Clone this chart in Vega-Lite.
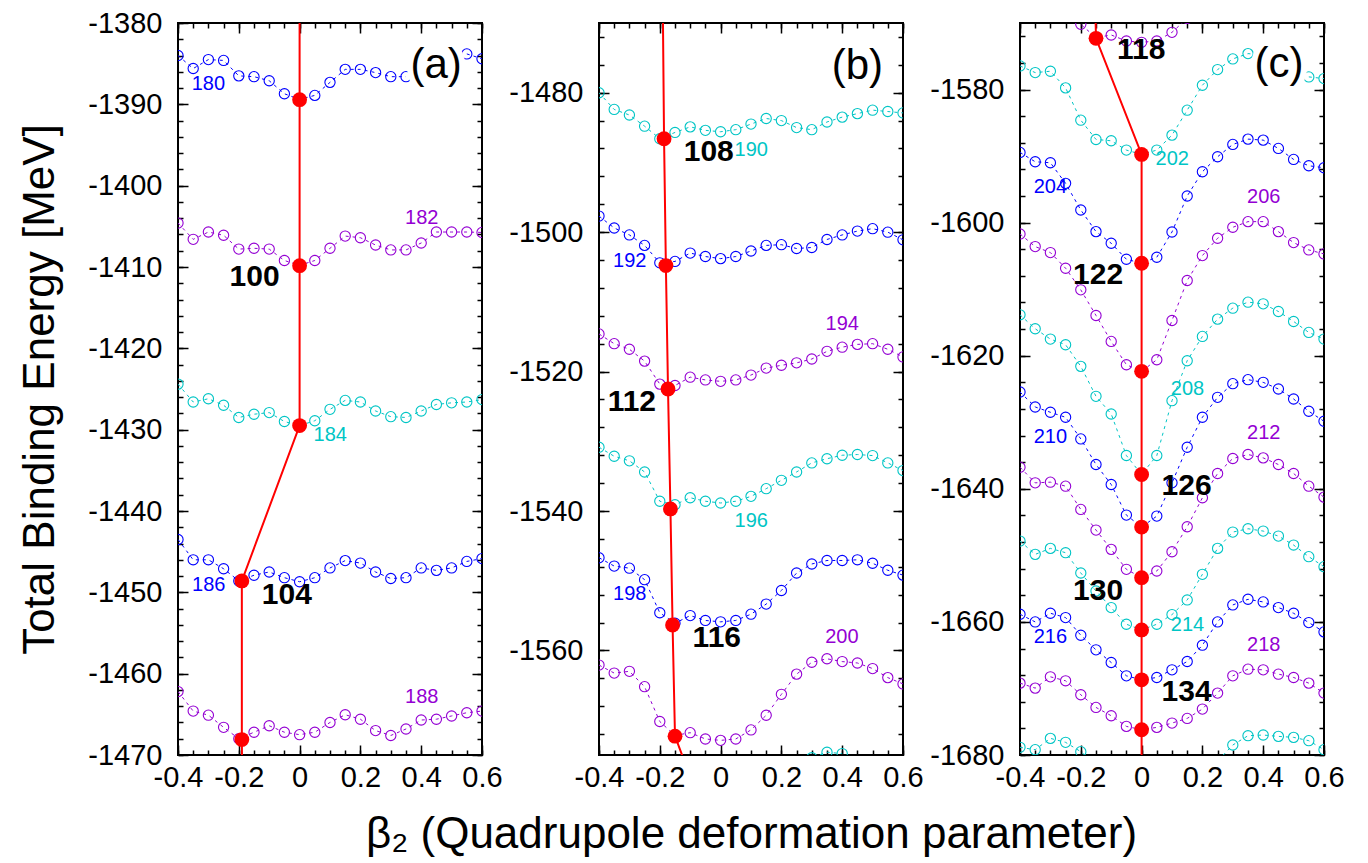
{
"$schema":"https://vega.github.io/schema/vega-lite/v6.json",
"background":"white",
"padding":{"left":17,"top":8,"right":5,"bottom":5},
"bounds":"flush",
"spacing":117,
"config":{"view":{"stroke":"black","strokeWidth":2},
"axis":{"domain":false,"grid":false,"tickColor":"black","tickWidth":1.5,"labelFont":"Liberation Sans","labelFontSize":29,"labelColor":"black","labelFlush":false,"labelOverlap":false,"titleFont":"Liberation Sans","titleFontSize":44,"titleFontWeight":"normal","titleColor":"black"}},
"datasets":{
"curves":[
{"A":180,"b":-0.4,"E":-1384.0},{"A":180,"b":-0.35,"E":-1385.6},{"A":180,"b":-0.3,"E":-1384.5},{"A":180,"b":-0.25,"E":-1384.6},{"A":180,"b":-0.2,"E":-1386.5},{"A":180,"b":-0.15,"E":-1386.6},{"A":180,"b":-0.1,"E":-1387.1},{"A":180,"b":-0.05,"E":-1388.7},{"A":180,"b":0,"E":-1389.4},{"A":180,"b":0.05,"E":-1388.9},{"A":180,"b":0.1,"E":-1387.3},{"A":180,"b":0.15,"E":-1385.7},{"A":180,"b":0.2,"E":-1385.7},{"A":180,"b":0.25,"E":-1386.1},{"A":180,"b":0.3,"E":-1386.6},{"A":180,"b":0.35,"E":-1386.6},{"A":180,"b":0.4,"E":null},{"A":180,"b":0.45,"E":null},{"A":180,"b":0.5,"E":null},{"A":180,"b":0.55,"E":-1383.8},{"A":180,"b":0.6,"E":-1384.4},
{"A":182,"b":-0.4,"E":-1404.6},{"A":182,"b":-0.35,"E":-1406.6},{"A":182,"b":-0.3,"E":-1405.7},{"A":182,"b":-0.25,"E":-1406.1},{"A":182,"b":-0.2,"E":-1407.8},{"A":182,"b":-0.15,"E":-1407.7},{"A":182,"b":-0.1,"E":-1407.8},{"A":182,"b":-0.05,"E":-1409.2},{"A":182,"b":0,"E":-1409.8},{"A":182,"b":0.05,"E":-1409.2},{"A":182,"b":0.1,"E":-1407.7},{"A":182,"b":0.15,"E":-1406.2},{"A":182,"b":0.2,"E":-1406.4},{"A":182,"b":0.25,"E":-1407.3},{"A":182,"b":0.3,"E":-1407.9},{"A":182,"b":0.35,"E":-1407.9},{"A":182,"b":0.4,"E":-1407.05},{"A":182,"b":0.45,"E":-1405.7},{"A":182,"b":0.5,"E":-1405.7},{"A":182,"b":0.55,"E":-1405.7},{"A":182,"b":0.6,"E":-1405.75},
{"A":184,"b":-0.4,"E":-1424.4},{"A":184,"b":-0.35,"E":-1426.6},{"A":184,"b":-0.3,"E":-1426.2},{"A":184,"b":-0.25,"E":-1427.0},{"A":184,"b":-0.2,"E":-1428.5},{"A":184,"b":-0.15,"E":-1428.1},{"A":184,"b":-0.1,"E":-1427.9},{"A":184,"b":-0.05,"E":-1429.0},{"A":184,"b":0,"E":-1429.5},{"A":184,"b":0.05,"E":-1428.9},{"A":184,"b":0.1,"E":-1427.5},{"A":184,"b":0.15,"E":-1426.4},{"A":184,"b":0.2,"E":-1426.6},{"A":184,"b":0.25,"E":-1427.7},{"A":184,"b":0.3,"E":-1428.4},{"A":184,"b":0.35,"E":-1428.5},{"A":184,"b":0.4,"E":-1427.7},{"A":184,"b":0.45,"E":-1426.9},{"A":184,"b":0.5,"E":-1426.7},{"A":184,"b":0.55,"E":-1426.6},{"A":184,"b":0.6,"E":-1426.3},
{"A":186,"b":-0.4,"E":-1443.5},{"A":186,"b":-0.35,"E":-1446.0},{"A":186,"b":-0.3,"E":-1446.0},{"A":186,"b":-0.25,"E":-1447.1},{"A":186,"b":-0.2,"E":-1448.6},{"A":186,"b":-0.15,"E":-1447.9},{"A":186,"b":-0.1,"E":-1447.5},{"A":186,"b":-0.05,"E":-1448.2},{"A":186,"b":0,"E":-1448.7},{"A":186,"b":0.05,"E":-1448.2},{"A":186,"b":0.1,"E":-1447.0},{"A":186,"b":0.15,"E":-1446.1},{"A":186,"b":0.2,"E":-1446.4},{"A":186,"b":0.25,"E":-1447.5},{"A":186,"b":0.3,"E":-1448.3},{"A":186,"b":0.35,"E":-1448.2},{"A":186,"b":0.4,"E":-1447.0},{"A":186,"b":0.45,"E":-1447.3},{"A":186,"b":0.5,"E":-1447.0},{"A":186,"b":0.55,"E":-1446.2},{"A":186,"b":0.6,"E":-1445.85},
{"A":188,"b":-0.4,"E":-1462.2},{"A":188,"b":-0.35,"E":-1464.6},{"A":188,"b":-0.3,"E":-1465.1},{"A":188,"b":-0.25,"E":-1466.6},{"A":188,"b":-0.2,"E":-1468.0},{"A":188,"b":-0.15,"E":-1467.2},{"A":188,"b":-0.1,"E":-1466.4},{"A":188,"b":-0.05,"E":-1467.2},{"A":188,"b":0,"E":-1467.5},{"A":188,"b":0.05,"E":-1467.2},{"A":188,"b":0.1,"E":-1466.0},{"A":188,"b":0.15,"E":-1465.05},{"A":188,"b":0.2,"E":-1465.6},{"A":188,"b":0.25,"E":-1467.0},{"A":188,"b":0.3,"E":-1467.6},{"A":188,"b":0.35,"E":-1466.8},{"A":188,"b":0.4,"E":-1465.7},{"A":188,"b":0.45,"E":-1465.6},{"A":188,"b":0.5,"E":-1465.2},{"A":188,"b":0.55,"E":-1464.8},{"A":188,"b":0.6,"E":-1464.6},
{"A":190,"b":-0.4,"E":-1480.0},{"A":190,"b":-0.35,"E":-1482.4},{"A":190,"b":-0.3,"E":-1483.2},{"A":190,"b":-0.25,"E":-1484.8},{"A":190,"b":-0.2,"E":-1486.6},{"A":190,"b":-0.15,"E":-1485.7},{"A":190,"b":-0.1,"E":-1484.9},{"A":190,"b":-0.05,"E":-1485.4},{"A":190,"b":0,"E":-1485.6},{"A":190,"b":0.05,"E":-1485.3},{"A":190,"b":0.1,"E":-1484.5},{"A":190,"b":0.15,"E":-1483.7},{"A":190,"b":0.2,"E":-1484.0},{"A":190,"b":0.25,"E":-1485.0},{"A":190,"b":0.3,"E":-1485.3},{"A":190,"b":0.35,"E":-1484.2},{"A":190,"b":0.4,"E":-1483.5},{"A":190,"b":0.45,"E":-1483.0},{"A":190,"b":0.5,"E":-1482.5},{"A":190,"b":0.55,"E":-1482.7},{"A":190,"b":0.6,"E":-1482.9},
{"A":192,"b":-0.4,"E":-1497.7},{"A":192,"b":-0.35,"E":-1499.4},{"A":192,"b":-0.3,"E":-1500.4},{"A":192,"b":-0.25,"E":-1501.9},{"A":192,"b":-0.2,"E":-1504.4},{"A":192,"b":-0.15,"E":-1504.2},{"A":192,"b":-0.1,"E":-1503.0},{"A":192,"b":-0.05,"E":-1503.5},{"A":192,"b":0,"E":-1503.8},{"A":192,"b":0.05,"E":-1503.5},{"A":192,"b":0.1,"E":-1502.7},{"A":192,"b":0.15,"E":-1501.9},{"A":192,"b":0.2,"E":-1501.8},{"A":192,"b":0.25,"E":-1502.35},{"A":192,"b":0.3,"E":-1502.2},{"A":192,"b":0.35,"E":-1501.05},{"A":192,"b":0.4,"E":-1500.4},{"A":192,"b":0.45,"E":-1499.85},{"A":192,"b":0.5,"E":-1499.5},{"A":192,"b":0.55,"E":-1500.0},{"A":192,"b":0.6,"E":-1501.1},
{"A":194,"b":-0.4,"E":-1514.6},{"A":194,"b":-0.35,"E":-1516.0},{"A":194,"b":-0.3,"E":-1516.8},{"A":194,"b":-0.25,"E":-1518.5},{"A":194,"b":-0.2,"E":-1521.8},{"A":194,"b":-0.15,"E":-1522.0},{"A":194,"b":-0.1,"E":-1520.8},{"A":194,"b":-0.05,"E":-1521.2},{"A":194,"b":0,"E":-1521.4},{"A":194,"b":0.05,"E":-1521.2},{"A":194,"b":0.1,"E":-1520.5},{"A":194,"b":0.15,"E":-1519.5},{"A":194,"b":0.2,"E":-1519.1},{"A":194,"b":0.25,"E":-1518.75},{"A":194,"b":0.3,"E":-1518.2},{"A":194,"b":0.35,"E":-1517.1},{"A":194,"b":0.4,"E":-1516.5},{"A":194,"b":0.45,"E":-1516.1},{"A":194,"b":0.5,"E":-1516.0},{"A":194,"b":0.55,"E":-1516.8},{"A":194,"b":0.6,"E":-1517.9},
{"A":196,"b":-0.4,"E":-1530.85},{"A":196,"b":-0.35,"E":-1532.15},{"A":196,"b":-0.3,"E":-1532.8},{"A":196,"b":-0.25,"E":-1534.4},{"A":196,"b":-0.2,"E":-1538.6},{"A":196,"b":-0.15,"E":-1539.1},{"A":196,"b":-0.1,"E":-1538.1},{"A":196,"b":-0.05,"E":-1538.6},{"A":196,"b":0,"E":-1538.85},{"A":196,"b":0.05,"E":-1538.6},{"A":196,"b":0.1,"E":-1537.9},{"A":196,"b":0.15,"E":-1536.8},{"A":196,"b":0.2,"E":-1535.6},{"A":196,"b":0.25,"E":-1534.4},{"A":196,"b":0.3,"E":-1533.1},{"A":196,"b":0.35,"E":-1532.5},{"A":196,"b":0.4,"E":-1532.0},{"A":196,"b":0.45,"E":-1531.9},{"A":196,"b":0.5,"E":-1532.05},{"A":196,"b":0.55,"E":-1533.1},{"A":196,"b":0.6,"E":-1534.2},
{"A":198,"b":-0.4,"E":-1546.7},{"A":198,"b":-0.35,"E":-1547.9},{"A":198,"b":-0.3,"E":-1548.2},{"A":198,"b":-0.25,"E":-1549.85},{"A":198,"b":-0.2,"E":-1554.6},{"A":198,"b":-0.15,"E":-1556.1},{"A":198,"b":-0.1,"E":-1555.0},{"A":198,"b":-0.05,"E":-1555.7},{"A":198,"b":0,"E":-1555.9},{"A":198,"b":0.05,"E":-1555.7},{"A":198,"b":0.1,"E":-1554.8},{"A":198,"b":0.15,"E":-1553.35},{"A":198,"b":0.2,"E":-1551.4},{"A":198,"b":0.25,"E":-1548.9},{"A":198,"b":0.3,"E":-1547.6},{"A":198,"b":0.35,"E":-1547.1},{"A":198,"b":0.4,"E":-1547.1},{"A":198,"b":0.45,"E":-1547.0},{"A":198,"b":0.5,"E":-1547.5},{"A":198,"b":0.55,"E":-1548.5},{"A":198,"b":0.6,"E":-1549.2},
{"A":200,"b":-0.4,"E":-1562.1},{"A":200,"b":-0.35,"E":-1563.25},{"A":200,"b":-0.3,"E":-1563.0},{"A":200,"b":-0.25,"E":-1565.2},{"A":200,"b":-0.2,"E":-1570.2},{"A":200,"b":-0.15,"E":-1572.2},{"A":200,"b":-0.1,"E":-1571.8},{"A":200,"b":-0.05,"E":-1572.7},{"A":200,"b":0,"E":-1572.9},{"A":200,"b":0.05,"E":-1572.7},{"A":200,"b":0.1,"E":-1571.4},{"A":200,"b":0.15,"E":-1569.3},{"A":200,"b":0.2,"E":-1566.3},{"A":200,"b":0.25,"E":-1563.4},{"A":200,"b":0.3,"E":-1561.7},{"A":200,"b":0.35,"E":-1561.2},{"A":200,"b":0.4,"E":-1561.6},{"A":200,"b":0.45,"E":-1561.8},{"A":200,"b":0.5,"E":-1562.6},{"A":200,"b":0.55,"E":-1563.9},{"A":200,"b":0.6,"E":-1564.8},
{"A":202,"b":-0.4,"E":-1576.45},{"A":202,"b":-0.35,"E":-1577.45},{"A":202,"b":-0.3,"E":-1577.25},{"A":202,"b":-0.25,"E":-1579.75},{"A":202,"b":-0.2,"E":-1584.6},{"A":202,"b":-0.15,"E":-1587.5},{"A":202,"b":-0.1,"E":-1587.7},{"A":202,"b":-0.05,"E":-1589.1},{"A":202,"b":0,"E":-1589.75},{"A":202,"b":0.05,"E":-1589.1},{"A":202,"b":0.1,"E":-1586.85},{"A":202,"b":0.15,"E":-1583.1},{"A":202,"b":0.2,"E":-1579.35},{"A":202,"b":0.25,"E":-1577.0},{"A":202,"b":0.3,"E":-1575.4},{"A":202,"b":0.35,"E":-1574.6},{"A":202,"b":0.4,"E":-1574.8},{"A":202,"b":0.45,"E":null},{"A":202,"b":0.5,"E":null},{"A":202,"b":0.55,"E":-1578.1},{"A":202,"b":0.6,"E":-1578.35},
{"A":204,"b":-0.4,"E":-1589.45},{"A":204,"b":-0.35,"E":-1590.85},{"A":204,"b":-0.3,"E":-1591.0},{"A":204,"b":-0.25,"E":-1594.1},{"A":204,"b":-0.2,"E":-1598.1},{"A":204,"b":-0.15,"E":-1601.35},{"A":204,"b":-0.1,"E":-1603.1},{"A":204,"b":-0.05,"E":-1605.5},{"A":204,"b":0,"E":-1606.1},{"A":204,"b":0.05,"E":-1605.2},{"A":204,"b":0.1,"E":-1601.4},{"A":204,"b":0.15,"E":-1596.0},{"A":204,"b":0.2,"E":-1592.35},{"A":204,"b":0.25,"E":-1590.1},{"A":204,"b":0.3,"E":-1588.25},{"A":204,"b":0.35,"E":-1587.45},{"A":204,"b":0.4,"E":-1587.6},{"A":204,"b":0.45,"E":-1588.85},{"A":204,"b":0.5,"E":-1590.5},{"A":204,"b":0.55,"E":-1591.45},{"A":204,"b":0.6,"E":-1591.75},
{"A":206,"b":-0.4,"E":-1601.7},{"A":206,"b":-0.35,"E":-1603.6},{"A":206,"b":-0.3,"E":-1604.5},{"A":206,"b":-0.25,"E":-1606.85},{"A":206,"b":-0.2,"E":-1610.1},{"A":206,"b":-0.15,"E":-1613.95},{"A":206,"b":-0.1,"E":-1617.85},{"A":206,"b":-0.05,"E":-1621.35},{"A":206,"b":0,"E":-1622.35},{"A":206,"b":0.05,"E":-1620.6},{"A":206,"b":0.1,"E":-1614.7},{"A":206,"b":0.15,"E":-1608.7},{"A":206,"b":0.2,"E":-1604.95},{"A":206,"b":0.25,"E":-1602.35},{"A":206,"b":0.3,"E":-1600.7},{"A":206,"b":0.35,"E":-1599.85},{"A":206,"b":0.4,"E":-1599.85},{"A":206,"b":0.45,"E":-1601.35},{"A":206,"b":0.5,"E":-1603.0},{"A":206,"b":0.55,"E":-1604.1},{"A":206,"b":0.6,"E":-1604.7},
{"A":208,"b":-0.4,"E":-1613.85},{"A":208,"b":-0.35,"E":-1615.95},{"A":208,"b":-0.3,"E":-1617.5},{"A":208,"b":-0.25,"E":-1618.35},{"A":208,"b":-0.2,"E":-1621.6},{"A":208,"b":-0.15,"E":-1626.1},{"A":208,"b":-0.1,"E":-1628.75},{"A":208,"b":-0.05,"E":-1635.0},{"A":208,"b":0,"E":-1637.85},{"A":208,"b":0.05,"E":-1635.0},{"A":208,"b":0.1,"E":-1626.75},{"A":208,"b":0.15,"E":-1620.75},{"A":208,"b":0.2,"E":-1617.1},{"A":208,"b":0.25,"E":-1614.5},{"A":208,"b":0.3,"E":-1612.85},{"A":208,"b":0.35,"E":-1611.95},{"A":208,"b":0.4,"E":-1612.2},{"A":208,"b":0.45,"E":-1613.35},{"A":208,"b":0.5,"E":-1614.85},{"A":208,"b":0.55,"E":-1616.5},{"A":208,"b":0.6,"E":-1617.5},
{"A":210,"b":-0.4,"E":-1625.45},{"A":210,"b":-0.35,"E":-1627.7},{"A":210,"b":-0.3,"E":-1628.5},{"A":210,"b":-0.25,"E":-1629.25},{"A":210,"b":-0.2,"E":-1632.5},{"A":210,"b":-0.15,"E":-1636.35},{"A":210,"b":-0.1,"E":-1639.35},{"A":210,"b":-0.05,"E":-1643.95},{"A":210,"b":0,"E":-1645.75},{"A":210,"b":0.05,"E":-1644.1},{"A":210,"b":0.1,"E":-1639.1},{"A":210,"b":0.15,"E":-1633.75},{"A":210,"b":0.2,"E":-1629.25},{"A":210,"b":0.25,"E":-1626.25},{"A":210,"b":0.3,"E":-1624.2},{"A":210,"b":0.35,"E":-1623.6},{"A":210,"b":0.4,"E":-1624.0},{"A":210,"b":0.45,"E":-1625.0},{"A":210,"b":0.5,"E":-1626.5},{"A":210,"b":0.55,"E":-1628.35},{"A":210,"b":0.6,"E":-1629.85},
{"A":212,"b":-0.4,"E":-1636.75},{"A":212,"b":-0.35,"E":-1639.1},{"A":212,"b":-0.3,"E":-1639.0},{"A":212,"b":-0.25,"E":-1639.6},{"A":212,"b":-0.2,"E":-1643.1},{"A":212,"b":-0.15,"E":-1646.2},{"A":212,"b":-0.1,"E":-1649.1},{"A":212,"b":-0.05,"E":-1652.1},{"A":212,"b":0,"E":-1653.35},{"A":212,"b":0.05,"E":-1652.35},{"A":212,"b":0.1,"E":-1649.45},{"A":212,"b":0.15,"E":-1645.7},{"A":212,"b":0.2,"E":-1641.35},{"A":212,"b":0.25,"E":-1637.7},{"A":212,"b":0.3,"E":-1635.45},{"A":212,"b":0.35,"E":-1634.85},{"A":212,"b":0.4,"E":-1635.35},{"A":212,"b":0.45,"E":-1636.35},{"A":212,"b":0.5,"E":-1637.7},{"A":212,"b":0.55,"E":-1639.6},{"A":212,"b":0.6,"E":-1641.25},
{"A":214,"b":-0.4,"E":-1647.85},{"A":214,"b":-0.35,"E":-1649.85},{"A":214,"b":-0.3,"E":-1648.95},{"A":214,"b":-0.25,"E":-1649.6},{"A":214,"b":-0.2,"E":-1652.65},{"A":214,"b":-0.15,"E":-1655.35},{"A":214,"b":-0.1,"E":-1657.85},{"A":214,"b":-0.05,"E":-1660.35},{"A":214,"b":0,"E":-1661.2},{"A":214,"b":0.05,"E":-1660.35},{"A":214,"b":0.1,"E":-1658.9},{"A":214,"b":0.15,"E":-1656.7},{"A":214,"b":0.2,"E":-1652.85},{"A":214,"b":0.25,"E":-1648.95},{"A":214,"b":0.3,"E":-1646.5},{"A":214,"b":0.35,"E":-1646.0},{"A":214,"b":0.4,"E":-1646.35},{"A":214,"b":0.45,"E":-1647.1},{"A":214,"b":0.5,"E":-1648.45},{"A":214,"b":0.55,"E":-1650.2},{"A":214,"b":0.6,"E":-1651.7},
{"A":216,"b":-0.4,"E":-1658.85},{"A":216,"b":-0.35,"E":-1660.0},{"A":216,"b":-0.3,"E":-1658.7},{"A":216,"b":-0.25,"E":-1659.35},{"A":216,"b":-0.2,"E":-1662.0},{"A":216,"b":-0.15,"E":-1664.2},{"A":216,"b":-0.1,"E":-1666.1},{"A":216,"b":-0.05,"E":-1668.1},{"A":216,"b":0,"E":-1668.7},{"A":216,"b":0.05,"E":-1668.35},{"A":216,"b":0.1,"E":-1667.2},{"A":216,"b":0.15,"E":-1665.95},{"A":216,"b":0.2,"E":-1663.5},{"A":216,"b":0.25,"E":-1660.0},{"A":216,"b":0.3,"E":-1657.45},{"A":216,"b":0.35,"E":-1656.6},{"A":216,"b":0.4,"E":-1657.0},{"A":216,"b":0.45,"E":-1657.85},{"A":216,"b":0.5,"E":-1658.7},{"A":216,"b":0.55,"E":-1660.1},{"A":216,"b":0.6,"E":-1661.5},
{"A":218,"b":-0.4,"E":-1669.2},{"A":218,"b":-0.35,"E":-1669.95},{"A":218,"b":-0.3,"E":-1668.25},{"A":218,"b":-0.25,"E":-1668.85},{"A":218,"b":-0.2,"E":-1670.95},{"A":218,"b":-0.15,"E":-1672.85},{"A":218,"b":-0.1,"E":-1674.1},{"A":218,"b":-0.05,"E":-1675.7},{"A":218,"b":0,"E":-1676.2},{"A":218,"b":0.05,"E":-1675.85},{"A":218,"b":0.1,"E":-1675.2},{"A":218,"b":0.15,"E":-1674.5},{"A":218,"b":0.2,"E":-1673.1},{"A":218,"b":0.25,"E":-1670.7},{"A":218,"b":0.3,"E":-1668.1},{"A":218,"b":0.35,"E":-1667.1},{"A":218,"b":0.4,"E":-1667.2},{"A":218,"b":0.45,"E":-1667.85},{"A":218,"b":0.5,"E":-1668.35},{"A":218,"b":0.55,"E":-1669.2},{"A":218,"b":0.6,"E":-1670.7},
{"A":220,"b":-0.4,"E":-1678.85},{"A":220,"b":-0.35,"E":-1679.2},{"A":220,"b":-0.3,"E":-1677.5},{"A":220,"b":-0.25,"E":-1678.1},{"A":220,"b":-0.2,"E":-1679.5},{"A":220,"b":-0.15,"E":-1681.5},{"A":220,"b":-0.1,"E":-1683.5},{"A":220,"b":-0.05,"E":-1685.5},{"A":220,"b":0,"E":-1686.5},{"A":220,"b":0.05,"E":-1685.8},{"A":220,"b":0.1,"E":-1684.5},{"A":220,"b":0.15,"E":-1683.0},{"A":220,"b":0.2,"E":-1681.8},{"A":220,"b":0.25,"E":-1680.9},{"A":220,"b":0.3,"E":-1678.5},{"A":220,"b":0.35,"E":-1677.1},{"A":220,"b":0.4,"E":-1677.0},{"A":220,"b":0.45,"E":-1677.2},{"A":220,"b":0.5,"E":-1677.35},{"A":220,"b":0.55,"E":-1677.85},{"A":220,"b":0.6,"E":-1679.2}
],
"red":[
{"N":96,"b":0,"E":-1369.5},{"N":98,"b":0,"E":-1389.43},{"N":100,"b":0,"E":-1409.84},{"N":102,"b":0,"E":-1429.5},{"N":104,"b":-0.19,"E":-1448.6},{"N":106,"b":-0.19,"E":-1468.1},{"N":108,"b":-0.186,"E":-1486.6},{"N":110,"b":-0.18,"E":-1504.8},{"N":112,"b":-0.173,"E":-1522.5},{"N":114,"b":-0.165,"E":-1539.7},{"N":116,"b":-0.158,"E":-1556.35},{"N":118,"b":-0.15,"E":-1572.3},{"N":120,"b":0,"E":-1589.75},{"N":122,"b":0,"E":-1606.1},{"N":124,"b":0,"E":-1622.35},{"N":126,"b":0,"E":-1637.85},{"N":128,"b":0,"E":-1645.75},{"N":130,"b":0,"E":-1653.35},{"N":132,"b":0,"E":-1661.2},{"N":134,"b":0,"E":-1668.7},{"N":136,"b":0,"E":-1676.2},{"N":138,"b":0,"E":-1684.0}
],
"alabels":[
{"p":"a","A":180,"b":-0.3,"E":-1387.5},{"p":"a","A":182,"b":0.402,"E":-1404.0},{"p":"a","A":184,"b":0.101,"E":-1430.66},{"p":"a","A":186,"b":-0.299,"E":-1449.1},{"p":"a","A":188,"b":0.402,"E":-1462.9},
{"p":"b","A":190,"b":0.101,"E":-1488.2},{"p":"b","A":192,"b":-0.299,"E":-1504.2},{"p":"b","A":194,"b":0.4,"E":-1513.2},{"p":"b","A":196,"b":0.101,"E":-1541.5},{"p":"b","A":198,"b":-0.299,"E":-1551.9},{"p":"b","A":200,"b":0.399,"E":-1558.1},
{"p":"c","A":202,"b":0.101,"E":-1590.5},{"p":"c","A":204,"b":-0.3,"E":-1594.7},{"p":"c","A":206,"b":0.402,"E":-1596.2},{"p":"c","A":208,"b":0.151,"E":-1625.05},{"p":"c","A":210,"b":-0.3,"E":-1632.2},{"p":"c","A":212,"b":0.402,"E":-1631.6},{"p":"c","A":214,"b":0.151,"E":-1660.4},{"p":"c","A":216,"b":-0.3,"E":-1662.3},{"p":"c","A":218,"b":0.402,"E":-1663.4}
],
"nlabels":[
{"p":"a","N":100,"b":-0.148,"E":-1411.2},{"p":"a","N":104,"b":-0.042,"E":-1450.3},
{"p":"b","N":108,"b":-0.039,"E":-1488.5},{"p":"b","N":112,"b":-0.292,"E":-1524.3},{"p":"b","N":116,"b":-0.0125,"E":-1558.2},
{"p":"c","N":118,"b":-0.001,"E":-1574.1},{"p":"c","N":122,"b":-0.143,"E":-1607.9},{"p":"c","N":126,"b":0.148,"E":-1639.6},{"p":"c","N":130,"b":-0.143,"E":-1655.35},{"p":"c","N":134,"b":0.148,"E":-1670.5}
],
"plabels":[
{"p":"a","t":"(a)","b":0.449,"E":-1385.2},{"p":"b","t":"(b)","b":0.45,"E":-1476.1},{"p":"c","t":"(c)","b":0.452,"E":-1576.1}
]
},
"hconcat":[
{
"width":304,"height":732,
"layer":[
{"mark":{"type":"rule","stroke":"#333333","strokeDash":[2,3],"strokeWidth":1.2},"encoding":{"x":{"datum":0,"type":"quantitative","scale":{"domain":[-0.4,0.6],"nice":false,"zero":false},"axis":null}}},
{"data":{"name":"curves"},"mark":{"type":"line","clip":true,"strokeDash":[3,4],"strokeWidth":1},
"encoding":{"x":{"field":"b","type":"quantitative","scale":{"domain":[-0.4,0.6],"nice":false,"zero":false},"axis":{"orient":"bottom","values":[-0.4,-0.35,-0.3,-0.25,-0.2,-0.15,-0.1,-0.05,0,0.05,0.1,0.15,0.2,0.25,0.3,0.35,0.4,0.45,0.5,0.55,0.6],"tickSize":-5,"labels":false,"title":null}},
"y":{"field":"E","type":"quantitative","scale":{"domain":[-1470,-1380],"nice":false,"zero":false},"axis":{"orient":"left","values":[-1470,-1468,-1466,-1464,-1462,-1460,-1458,-1456,-1454,-1452,-1450,-1448,-1446,-1444,-1442,-1440,-1438,-1436,-1434,-1432,-1430,-1428,-1426,-1424,-1422,-1420,-1418,-1416,-1414,-1412,-1410,-1408,-1406,-1404,-1402,-1400,-1398,-1396,-1394,-1392,-1390,-1388,-1386,-1384,-1382,-1380],"tickSize":-5,"labels":false,"title":null}},
"color":{"field":"A","type":"nominal","scale":{"domain":[180,182,184,186,188,190,192,194,196,198,200,202,204,206,208,210,212,214,216,218,220],"range":["#0000ff","#9400d3","#00c5c5","#0000ff","#9400d3","#00c5c5","#0000ff","#9400d3","#00c5c5","#0000ff","#9400d3","#00c5c5","#0000ff","#9400d3","#00c5c5","#0000ff","#9400d3","#00c5c5","#0000ff","#9400d3","#00c5c5"]},"legend":null},
"order":{"field":"b"}}},
{"data":{"name":"curves"},"mark":{"type":"point","shape":"circle","filled":false,"size":105,"strokeWidth":1.1,"opacity":1,"clip":true},
"encoding":{"x":{"field":"b","type":"quantitative","scale":{"domain":[-0.4,0.6],"nice":false,"zero":false},"axis":{"orient":"bottom","values":[-0.4,-0.2,0,0.2,0.4,0.6],"tickSize":-10,"labelPadding":18,"format":"~g","labelExpr":"replace(datum.label, '−', '-')","title":null}},
"y":{"field":"E","type":"quantitative","scale":{"domain":[-1470,-1380],"nice":false,"zero":false},"axis":{"orient":"left","values":[-1470,-1460,-1450,-1440,-1430,-1420,-1410,-1400,-1390,-1380],"tickSize":-10,"labelPadding":26,"format":"d","labelExpr":"replace(datum.label, '−', '-')","title":"Total Binding Energy [MeV]","titlePadding":25}},
"color":{"field":"A","type":"nominal","scale":{"domain":[180,182,184,186,188,190,192,194,196,198,200,202,204,206,208,210,212,214,216,218,220],"range":["#0000ff","#9400d3","#00c5c5","#0000ff","#9400d3","#00c5c5","#0000ff","#9400d3","#00c5c5","#0000ff","#9400d3","#00c5c5","#0000ff","#9400d3","#00c5c5","#0000ff","#9400d3","#00c5c5","#0000ff","#9400d3","#00c5c5"]},"legend":null}}},
{"data":{"name":"red"},"mark":{"type":"line","color":"#ff0000","strokeWidth":2,"clip":true},
"encoding":{"x":{"field":"b","type":"quantitative","scale":{"domain":[-0.4,0.6],"nice":false,"zero":false},"axis":{"orient":"top","values":[-0.4,-0.2,0,0.2,0.4,0.6],"tickSize":-10,"labels":false,"title":null}},
"y":{"field":"E","type":"quantitative","scale":{"domain":[-1470,-1380],"nice":false,"zero":false},"axis":{"orient":"right","values":[-1470,-1460,-1450,-1440,-1430,-1420,-1410,-1400,-1390,-1380],"tickSize":-10,"labels":false,"title":null}},
"order":{"field":"N"}}},
{"data":{"name":"red"},"mark":{"type":"circle","color":"#ff0000","size":220,"opacity":1,"clip":true},
"encoding":{"x":{"field":"b","type":"quantitative","scale":{"domain":[-0.4,0.6],"nice":false,"zero":false},"axis":{"orient":"top","values":[-0.4,-0.35,-0.3,-0.25,-0.2,-0.15,-0.1,-0.05,0,0.05,0.1,0.15,0.2,0.25,0.3,0.35,0.4,0.45,0.5,0.55,0.6],"tickSize":-5,"labels":false,"title":null}},
"y":{"field":"E","type":"quantitative","scale":{"domain":[-1470,-1380],"nice":false,"zero":false},"axis":{"orient":"right","values":[-1470,-1468,-1466,-1464,-1462,-1460,-1458,-1456,-1454,-1452,-1450,-1448,-1446,-1444,-1442,-1440,-1438,-1436,-1434,-1432,-1430,-1428,-1426,-1424,-1422,-1420,-1418,-1416,-1414,-1412,-1410,-1408,-1406,-1404,-1402,-1400,-1398,-1396,-1394,-1392,-1390,-1388,-1386,-1384,-1382,-1380],"tickSize":-5,"labels":false,"title":null}}}},
{"data":{"name":"alabels"},"transform":[{"filter":"datum.p == 'a'"}],"mark":{"type":"text","font":"Liberation Sans","fontSize":20,"align":"center","baseline":"middle"},
"encoding":{"x":{"field":"b","type":"quantitative","scale":{"domain":[-0.4,0.6],"nice":false,"zero":false},"axis":null},"y":{"field":"E","type":"quantitative","scale":{"domain":[-1470,-1380],"nice":false,"zero":false},"axis":null},"text":{"field":"A"},
"color":{"field":"A","type":"nominal","scale":{"domain":[180,182,184,186,188,190,192,194,196,198,200,202,204,206,208,210,212,214,216,218,220],"range":["#0000ff","#9400d3","#00c5c5","#0000ff","#9400d3","#00c5c5","#0000ff","#9400d3","#00c5c5","#0000ff","#9400d3","#00c5c5","#0000ff","#9400d3","#00c5c5","#0000ff","#9400d3","#00c5c5","#0000ff","#9400d3","#00c5c5"]},"legend":null}}},
{"data":{"name":"nlabels"},"transform":[{"filter":"datum.p == 'a'"}],"mark":{"type":"text","font":"Liberation Sans","fontSize":30,"fontWeight":"bold","align":"center","baseline":"middle","color":"black"},
"encoding":{"x":{"field":"b","type":"quantitative","scale":{"domain":[-0.4,0.6],"nice":false,"zero":false},"axis":null},"y":{"field":"E","type":"quantitative","scale":{"domain":[-1470,-1380],"nice":false,"zero":false},"axis":null},"text":{"field":"N"}}},
{"data":{"name":"plabels"},"transform":[{"filter":"datum.p == 'a'"}],"mark":{"type":"text","font":"Liberation Sans","fontSize":42,"align":"center","baseline":"middle","fill":"white","stroke":"white","strokeWidth":12},
"encoding":{"x":{"field":"b","type":"quantitative","scale":{"domain":[-0.4,0.6],"nice":false,"zero":false},"axis":null},"y":{"field":"E","type":"quantitative","scale":{"domain":[-1470,-1380],"nice":false,"zero":false},"axis":null},"text":{"field":"t"}}},
{"data":{"name":"plabels"},"transform":[{"filter":"datum.p == 'a'"}],"mark":{"type":"text","font":"Liberation Sans","fontSize":42,"align":"center","baseline":"middle","color":"black"},
"encoding":{"x":{"field":"b","type":"quantitative","scale":{"domain":[-0.4,0.6],"nice":false,"zero":false},"axis":null},"y":{"field":"E","type":"quantitative","scale":{"domain":[-1470,-1380],"nice":false,"zero":false},"axis":null},"text":{"field":"t"}}}
],
"resolve":{"axis":{"x":"independent","y":"independent"}}
},
{
"width":304,"height":732,
"layer":[
{"mark":{"type":"rule","stroke":"#333333","strokeDash":[2,3],"strokeWidth":1.2},"encoding":{"x":{"datum":0,"type":"quantitative","scale":{"domain":[-0.4,0.6],"nice":false,"zero":false},"axis":null}}},
{"data":{"name":"curves"},"mark":{"type":"line","clip":true,"strokeDash":[3,4],"strokeWidth":1},
"encoding":{"x":{"field":"b","type":"quantitative","scale":{"domain":[-0.4,0.6],"nice":false,"zero":false},"axis":{"orient":"bottom","values":[-0.4,-0.35,-0.3,-0.25,-0.2,-0.15,-0.1,-0.05,0,0.05,0.1,0.15,0.2,0.25,0.3,0.35,0.4,0.45,0.5,0.55,0.6],"tickSize":-5,"labels":false,"title":null}},
"y":{"field":"E","type":"quantitative","scale":{"domain":[-1575,-1470],"nice":false,"zero":false},"axis":{"orient":"left","values":[-1572,-1568,-1564,-1560,-1556,-1552,-1548,-1544,-1540,-1536,-1532,-1528,-1524,-1520,-1516,-1512,-1508,-1504,-1500,-1496,-1492,-1488,-1484,-1480,-1476,-1472],"tickSize":-5,"labels":false,"title":null}},
"color":{"field":"A","type":"nominal","scale":{"domain":[180,182,184,186,188,190,192,194,196,198,200,202,204,206,208,210,212,214,216,218,220],"range":["#0000ff","#9400d3","#00c5c5","#0000ff","#9400d3","#00c5c5","#0000ff","#9400d3","#00c5c5","#0000ff","#9400d3","#00c5c5","#0000ff","#9400d3","#00c5c5","#0000ff","#9400d3","#00c5c5","#0000ff","#9400d3","#00c5c5"]},"legend":null},
"order":{"field":"b"}}},
{"data":{"name":"curves"},"mark":{"type":"point","shape":"circle","filled":false,"size":105,"strokeWidth":1.1,"opacity":1,"clip":true},
"encoding":{"x":{"field":"b","type":"quantitative","scale":{"domain":[-0.4,0.6],"nice":false,"zero":false},"axis":{"orient":"bottom","values":[-0.4,-0.2,0,0.2,0.4,0.6],"tickSize":-10,"labelPadding":18,"format":"~g","labelExpr":"replace(datum.label, '−', '-')","title":"β₂ (Quadrupole deformation parameter)","titlePadding":20}},
"y":{"field":"E","type":"quantitative","scale":{"domain":[-1575,-1470],"nice":false,"zero":false},"axis":{"orient":"left","values":[-1560,-1540,-1520,-1500,-1480],"tickSize":-10,"labelPadding":26,"format":"d","labelExpr":"replace(datum.label, '−', '-')","title":null}},
"color":{"field":"A","type":"nominal","scale":{"domain":[180,182,184,186,188,190,192,194,196,198,200,202,204,206,208,210,212,214,216,218,220],"range":["#0000ff","#9400d3","#00c5c5","#0000ff","#9400d3","#00c5c5","#0000ff","#9400d3","#00c5c5","#0000ff","#9400d3","#00c5c5","#0000ff","#9400d3","#00c5c5","#0000ff","#9400d3","#00c5c5","#0000ff","#9400d3","#00c5c5"]},"legend":null}}},
{"data":{"name":"red"},"mark":{"type":"line","color":"#ff0000","strokeWidth":2,"clip":true},
"encoding":{"x":{"field":"b","type":"quantitative","scale":{"domain":[-0.4,0.6],"nice":false,"zero":false},"axis":{"orient":"top","values":[-0.4,-0.2,0,0.2,0.4,0.6],"tickSize":-10,"labels":false,"title":null}},
"y":{"field":"E","type":"quantitative","scale":{"domain":[-1575,-1470],"nice":false,"zero":false},"axis":{"orient":"right","values":[-1560,-1540,-1520,-1500,-1480],"tickSize":-10,"labels":false,"title":null}},
"order":{"field":"N"}}},
{"data":{"name":"red"},"mark":{"type":"circle","color":"#ff0000","size":220,"opacity":1,"clip":true},
"encoding":{"x":{"field":"b","type":"quantitative","scale":{"domain":[-0.4,0.6],"nice":false,"zero":false},"axis":{"orient":"top","values":[-0.4,-0.35,-0.3,-0.25,-0.2,-0.15,-0.1,-0.05,0,0.05,0.1,0.15,0.2,0.25,0.3,0.35,0.4,0.45,0.5,0.55,0.6],"tickSize":-5,"labels":false,"title":null}},
"y":{"field":"E","type":"quantitative","scale":{"domain":[-1575,-1470],"nice":false,"zero":false},"axis":{"orient":"right","values":[-1572,-1568,-1564,-1560,-1556,-1552,-1548,-1544,-1540,-1536,-1532,-1528,-1524,-1520,-1516,-1512,-1508,-1504,-1500,-1496,-1492,-1488,-1484,-1480,-1476,-1472],"tickSize":-5,"labels":false,"title":null}}}},
{"data":{"name":"alabels"},"transform":[{"filter":"datum.p == 'b'"}],"mark":{"type":"text","font":"Liberation Sans","fontSize":20,"align":"center","baseline":"middle"},
"encoding":{"x":{"field":"b","type":"quantitative","scale":{"domain":[-0.4,0.6],"nice":false,"zero":false},"axis":null},"y":{"field":"E","type":"quantitative","scale":{"domain":[-1575,-1470],"nice":false,"zero":false},"axis":null},"text":{"field":"A"},
"color":{"field":"A","type":"nominal","scale":{"domain":[180,182,184,186,188,190,192,194,196,198,200,202,204,206,208,210,212,214,216,218,220],"range":["#0000ff","#9400d3","#00c5c5","#0000ff","#9400d3","#00c5c5","#0000ff","#9400d3","#00c5c5","#0000ff","#9400d3","#00c5c5","#0000ff","#9400d3","#00c5c5","#0000ff","#9400d3","#00c5c5","#0000ff","#9400d3","#00c5c5"]},"legend":null}}},
{"data":{"name":"nlabels"},"transform":[{"filter":"datum.p == 'b'"}],"mark":{"type":"text","font":"Liberation Sans","fontSize":30,"fontWeight":"bold","align":"center","baseline":"middle","color":"black"},
"encoding":{"x":{"field":"b","type":"quantitative","scale":{"domain":[-0.4,0.6],"nice":false,"zero":false},"axis":null},"y":{"field":"E","type":"quantitative","scale":{"domain":[-1575,-1470],"nice":false,"zero":false},"axis":null},"text":{"field":"N"}}},
{"data":{"name":"plabels"},"transform":[{"filter":"datum.p == 'b'"}],"mark":{"type":"text","font":"Liberation Sans","fontSize":42,"align":"center","baseline":"middle","fill":"white","stroke":"white","strokeWidth":12},
"encoding":{"x":{"field":"b","type":"quantitative","scale":{"domain":[-0.4,0.6],"nice":false,"zero":false},"axis":null},"y":{"field":"E","type":"quantitative","scale":{"domain":[-1575,-1470],"nice":false,"zero":false},"axis":null},"text":{"field":"t"}}},
{"data":{"name":"plabels"},"transform":[{"filter":"datum.p == 'b'"}],"mark":{"type":"text","font":"Liberation Sans","fontSize":42,"align":"center","baseline":"middle","color":"black"},
"encoding":{"x":{"field":"b","type":"quantitative","scale":{"domain":[-0.4,0.6],"nice":false,"zero":false},"axis":null},"y":{"field":"E","type":"quantitative","scale":{"domain":[-1575,-1470],"nice":false,"zero":false},"axis":null},"text":{"field":"t"}}}
],
"resolve":{"axis":{"x":"independent","y":"independent"}}
},
{
"width":304,"height":732,
"layer":[
{"mark":{"type":"rule","stroke":"#333333","strokeDash":[2,3],"strokeWidth":1.2},"encoding":{"x":{"datum":0,"type":"quantitative","scale":{"domain":[-0.4,0.6],"nice":false,"zero":false},"axis":null}}},
{"data":{"name":"curves"},"mark":{"type":"line","clip":true,"strokeDash":[3,4],"strokeWidth":1},
"encoding":{"x":{"field":"b","type":"quantitative","scale":{"domain":[-0.4,0.6],"nice":false,"zero":false},"axis":{"orient":"bottom","values":[-0.4,-0.35,-0.3,-0.25,-0.2,-0.15,-0.1,-0.05,0,0.05,0.1,0.15,0.2,0.25,0.3,0.35,0.4,0.45,0.5,0.55,0.6],"tickSize":-5,"labels":false,"title":null}},
"y":{"field":"E","type":"quantitative","scale":{"domain":[-1680,-1570],"nice":false,"zero":false},"axis":{"orient":"left","values":[-1680,-1676,-1672,-1668,-1664,-1660,-1656,-1652,-1648,-1644,-1640,-1636,-1632,-1628,-1624,-1620,-1616,-1612,-1608,-1604,-1600,-1596,-1592,-1588,-1584,-1580,-1576,-1572],"tickSize":-5,"labels":false,"title":null}},
"color":{"field":"A","type":"nominal","scale":{"domain":[180,182,184,186,188,190,192,194,196,198,200,202,204,206,208,210,212,214,216,218,220],"range":["#0000ff","#9400d3","#00c5c5","#0000ff","#9400d3","#00c5c5","#0000ff","#9400d3","#00c5c5","#0000ff","#9400d3","#00c5c5","#0000ff","#9400d3","#00c5c5","#0000ff","#9400d3","#00c5c5","#0000ff","#9400d3","#00c5c5"]},"legend":null},
"order":{"field":"b"}}},
{"data":{"name":"curves"},"mark":{"type":"point","shape":"circle","filled":false,"size":105,"strokeWidth":1.1,"opacity":1,"clip":true},
"encoding":{"x":{"field":"b","type":"quantitative","scale":{"domain":[-0.4,0.6],"nice":false,"zero":false},"axis":{"orient":"bottom","values":[-0.4,-0.2,0,0.2,0.4,0.6],"tickSize":-10,"labelPadding":18,"format":"~g","labelExpr":"replace(datum.label, '−', '-')","title":null}},
"y":{"field":"E","type":"quantitative","scale":{"domain":[-1680,-1570],"nice":false,"zero":false},"axis":{"orient":"left","values":[-1680,-1660,-1640,-1620,-1600,-1580],"tickSize":-10,"labelPadding":26,"format":"d","labelExpr":"replace(datum.label, '−', '-')","title":null}},
"color":{"field":"A","type":"nominal","scale":{"domain":[180,182,184,186,188,190,192,194,196,198,200,202,204,206,208,210,212,214,216,218,220],"range":["#0000ff","#9400d3","#00c5c5","#0000ff","#9400d3","#00c5c5","#0000ff","#9400d3","#00c5c5","#0000ff","#9400d3","#00c5c5","#0000ff","#9400d3","#00c5c5","#0000ff","#9400d3","#00c5c5","#0000ff","#9400d3","#00c5c5"]},"legend":null}}},
{"data":{"name":"red"},"mark":{"type":"line","color":"#ff0000","strokeWidth":2,"clip":true},
"encoding":{"x":{"field":"b","type":"quantitative","scale":{"domain":[-0.4,0.6],"nice":false,"zero":false},"axis":{"orient":"top","values":[-0.4,-0.2,0,0.2,0.4,0.6],"tickSize":-10,"labels":false,"title":null}},
"y":{"field":"E","type":"quantitative","scale":{"domain":[-1680,-1570],"nice":false,"zero":false},"axis":{"orient":"right","values":[-1680,-1660,-1640,-1620,-1600,-1580],"tickSize":-10,"labels":false,"title":null}},
"order":{"field":"N"}}},
{"data":{"name":"red"},"mark":{"type":"circle","color":"#ff0000","size":220,"opacity":1,"clip":true},
"encoding":{"x":{"field":"b","type":"quantitative","scale":{"domain":[-0.4,0.6],"nice":false,"zero":false},"axis":{"orient":"top","values":[-0.4,-0.35,-0.3,-0.25,-0.2,-0.15,-0.1,-0.05,0,0.05,0.1,0.15,0.2,0.25,0.3,0.35,0.4,0.45,0.5,0.55,0.6],"tickSize":-5,"labels":false,"title":null}},
"y":{"field":"E","type":"quantitative","scale":{"domain":[-1680,-1570],"nice":false,"zero":false},"axis":{"orient":"right","values":[-1680,-1676,-1672,-1668,-1664,-1660,-1656,-1652,-1648,-1644,-1640,-1636,-1632,-1628,-1624,-1620,-1616,-1612,-1608,-1604,-1600,-1596,-1592,-1588,-1584,-1580,-1576,-1572],"tickSize":-5,"labels":false,"title":null}}}},
{"data":{"name":"alabels"},"transform":[{"filter":"datum.p == 'c'"}],"mark":{"type":"text","font":"Liberation Sans","fontSize":20,"align":"center","baseline":"middle"},
"encoding":{"x":{"field":"b","type":"quantitative","scale":{"domain":[-0.4,0.6],"nice":false,"zero":false},"axis":null},"y":{"field":"E","type":"quantitative","scale":{"domain":[-1680,-1570],"nice":false,"zero":false},"axis":null},"text":{"field":"A"},
"color":{"field":"A","type":"nominal","scale":{"domain":[180,182,184,186,188,190,192,194,196,198,200,202,204,206,208,210,212,214,216,218,220],"range":["#0000ff","#9400d3","#00c5c5","#0000ff","#9400d3","#00c5c5","#0000ff","#9400d3","#00c5c5","#0000ff","#9400d3","#00c5c5","#0000ff","#9400d3","#00c5c5","#0000ff","#9400d3","#00c5c5","#0000ff","#9400d3","#00c5c5"]},"legend":null}}},
{"data":{"name":"nlabels"},"transform":[{"filter":"datum.p == 'c'"}],"mark":{"type":"text","font":"Liberation Sans","fontSize":30,"fontWeight":"bold","align":"center","baseline":"middle","color":"black"},
"encoding":{"x":{"field":"b","type":"quantitative","scale":{"domain":[-0.4,0.6],"nice":false,"zero":false},"axis":null},"y":{"field":"E","type":"quantitative","scale":{"domain":[-1680,-1570],"nice":false,"zero":false},"axis":null},"text":{"field":"N"}}},
{"data":{"name":"plabels"},"transform":[{"filter":"datum.p == 'c'"}],"mark":{"type":"text","font":"Liberation Sans","fontSize":42,"align":"center","baseline":"middle","fill":"white","stroke":"white","strokeWidth":12},
"encoding":{"x":{"field":"b","type":"quantitative","scale":{"domain":[-0.4,0.6],"nice":false,"zero":false},"axis":null},"y":{"field":"E","type":"quantitative","scale":{"domain":[-1680,-1570],"nice":false,"zero":false},"axis":null},"text":{"field":"t"}}},
{"data":{"name":"plabels"},"transform":[{"filter":"datum.p == 'c'"}],"mark":{"type":"text","font":"Liberation Sans","fontSize":42,"align":"center","baseline":"middle","color":"black"},
"encoding":{"x":{"field":"b","type":"quantitative","scale":{"domain":[-0.4,0.6],"nice":false,"zero":false},"axis":null},"y":{"field":"E","type":"quantitative","scale":{"domain":[-1680,-1570],"nice":false,"zero":false},"axis":null},"text":{"field":"t"}}}
],
"resolve":{"axis":{"x":"independent","y":"independent"}}
}
]
}
